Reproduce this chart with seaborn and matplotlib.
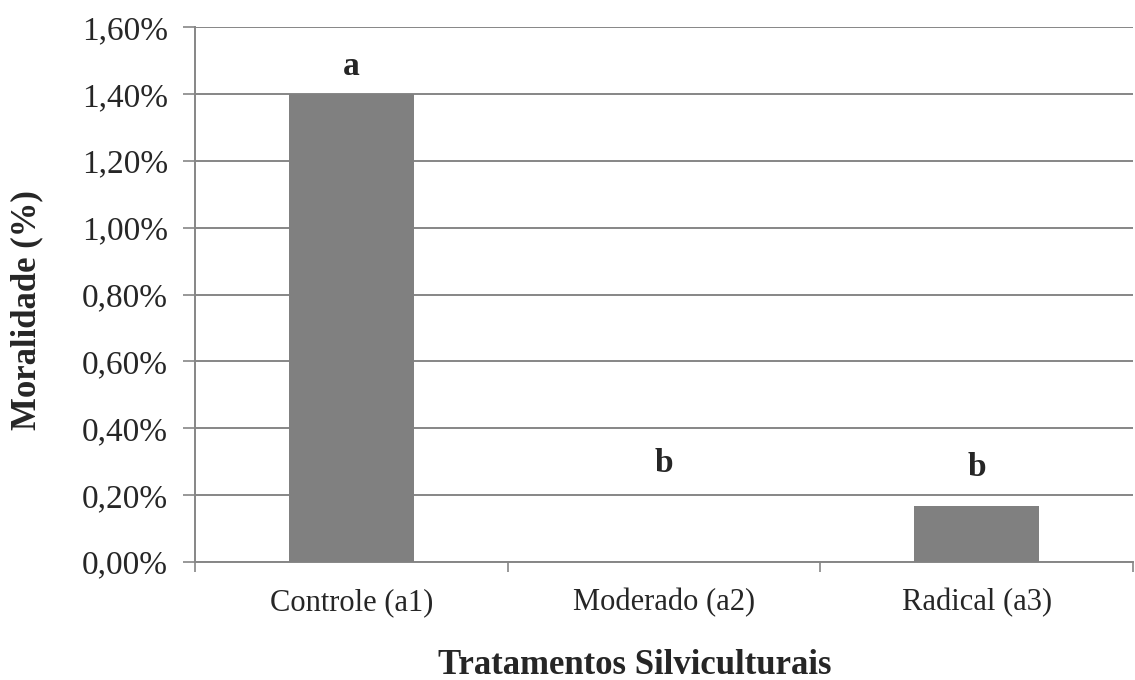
import seaborn as sns
import matplotlib.pyplot as plt
from matplotlib.ticker import FuncFormatter, FixedLocator
import pandas as pd

# dados do grafico
tratamentos = ['Controle (a1)', 'Moderado (a2)', 'Radical (a3)']
mortalidade = [0.0140, 0.0, 0.00168]
letras = ['a', 'b', 'b']
altura_letras = [0.01483, 0.00296, 0.00284]
y_ticks = [0.0, 0.002, 0.004, 0.006, 0.008, 0.010, 0.012, 0.014, 0.016]

df = pd.DataFrame({'trat': tratamentos, 'mort': mortalidade})

sns.set_style('white')
plt.rcParams['font.family'] = ['Liberation Serif', 'DejaVu Serif']

fig = plt.figure(figsize=(11.35, 6.8), dpi=100)
ax = fig.add_axes([0.1718, 0.1735, 0.8265, 0.7865])

cinza = '#868686'
sns.barplot(data=df, x='trat', y='mort', color='#808080', width=0.4,
            saturation=1, linewidth=0, ax=ax, zorder=3)

ax.set_ylim(0, 0.016)
ax.set_xlim(-0.5, 2.5)
ax.set_yticks(y_ticks)
ax.yaxis.set_major_formatter(FuncFormatter(lambda v, p: f'{v*100:.2f}%'.replace('.', ',')))
ax.yaxis.grid(True, color=cinza, linewidth=1.4, zorder=0)
ax.set_axisbelow(True)

# ticks entre categorias
ax.xaxis.set_minor_locator(FixedLocator([-0.5, 0.5, 1.5, 2.5]))
ax.tick_params(axis='x', which='major', length=0, labelsize=22, pad=19)
ax.tick_params(axis='x', which='minor', bottom=True, length=7.5, width=1.2, color=cinza, direction='out')
ax.tick_params(axis='y', left=True, length=8.6, width=1.2, color=cinza, direction='out',
               labelsize=24, pad=11)

for s in ['top', 'right']:
    ax.spines[s].set_visible(False)
for s in ['left', 'bottom']:
    ax.spines[s].set_color(cinza)
    ax.spines[s].set_linewidth(1.4)

for i, (l, h) in enumerate(zip(letras, altura_letras)):
    ax.text(i, h, l, ha='center', va='center', fontsize=24, fontweight='bold')

ax.set_xlabel('Tratamentos Silviculturais', fontsize=25, fontweight='bold')
ax.set_ylabel('Moralidade (%)', fontsize=25, fontweight='bold')
ax.xaxis.set_label_coords(0.469, -0.193)
ax.xaxis.label.set_va('center')
ax.yaxis.set_label_coords(-0.179, 0.471)
ax.yaxis.label.set_va('center')

fig.savefig('out.png', dpi=100)
